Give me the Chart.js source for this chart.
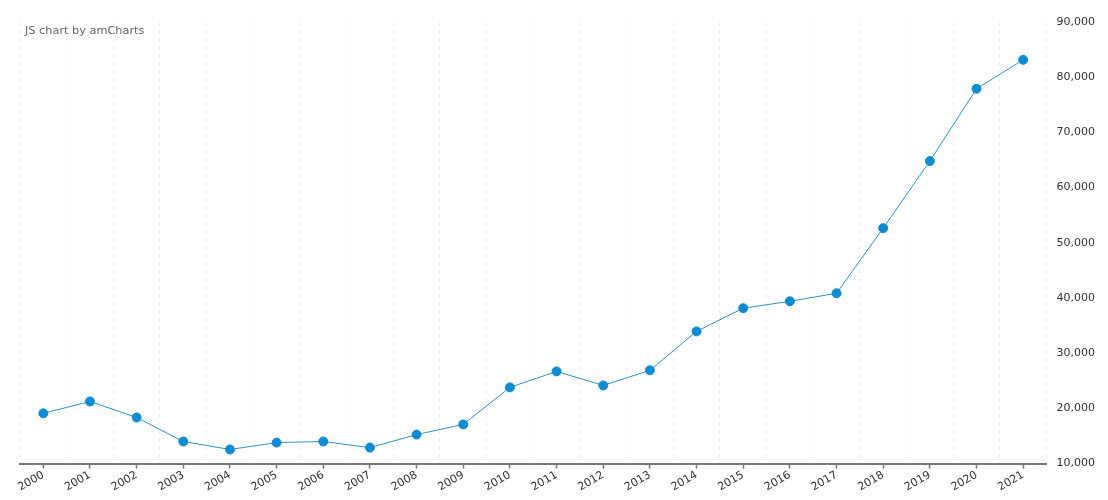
<!DOCTYPE html>
<html>
<head>
<meta charset="utf-8">
<script src="https://cdn.jsdelivr.net/npm/chart.js@4"></script>
<style>
  html, body { margin: 0; padding: 0; background: #fff; }
  #wrap { width: 1108px; height: 500px; }
</style>
</head>
<body>
<div id="wrap"><canvas id="chart"></canvas></div>
<script>
// données
const years = ['2000','2001','2002','2003','2004','2005','2006','2007','2008','2009','2010',
               '2011','2012','2013','2014','2015','2016','2017','2018','2019','2020','2021'];
const values = [19100, 21250, 18350, 14000, 12550, 13800, 14000, 12900, 15250, 17100, 23800,
                26700, 24150, 26900, 33950, 38150, 39400, 40850, 52650, 64800, 77900, 83150];
const yTicks = [10000, 20000, 30000, 40000, 50000, 60000, 70000, 80000, 90000];

const FONT = 'DejaVu Sans, Verdana, sans-serif';

// petit texte en haut à gauche
const creditPlugin = {
    id: 'credit',
    afterDraw(chart) {
        const ctx = chart.ctx;
        ctx.save();
        ctx.font = '11.3px ' + FONT;
        ctx.fillStyle = '#666';
        ctx.textBaseline = 'middle';
        ctx.fillText('JS chart by amCharts', 25, 31);
        ctx.restore();
    }
};

new Chart(document.getElementById('chart'), {
    type: 'line',
    data: {
        labels: years,
        datasets: [{
            data: values,
            borderColor: '#2b93cc',
            borderWidth: 1,
            pointBackgroundColor: '#0e8bd1',
            pointBorderColor: '#0e8bd1',
            pointRadius: 4.5,
            pointHoverRadius: 5,
            tension: 0,
            fill: false
        }]
    },
    options: {
        responsive: true,
        maintainAspectRatio: false,
        animation: false,
        layout: { padding: { left: 20, top: 22, right: 11, bottom: 6 } },
        plugins: { legend: { display: false }, tooltip: { enabled: true } },
        scales: {
            x: {
                type: 'category',
                offset: true,
                grid: {
                    offset: false,
                    drawOnChartArea: false,
                    tickLength: 5,
                    tickColor: '#777',
                    tickWidth: 1.5
                },
                border: { display: true, color: '#777', width: 2 },
                ticks: {
                    minRotation: 30, maxRotation: 30,
                    padding: 0,
                    color: '#333',
                    font: { family: FONT, size: 11 }
                }
            },
            x2: {
                type: 'category',
                labels: years,
                position: 'top',
                offset: true,
                grid: {
                    offset: true,
                    drawTicks: false,
                    color: '#f0f0f0',
                    lineWidth: 1
                },
                border: { display: false, dash: [4, 4] },
                ticks: { display: false }
            },
            y: {
                position: 'right',
                min: 10000,
                max: 90000,
                afterBuildTicks: (axis) => { axis.ticks = yTicks.map(v => ({ value: v })); },
                grid: { display: false },
                border: { display: false },
                ticks: {
                    padding: 2,
                    color: '#333',
                    font: { family: FONT, size: 11 },
                    callback: (v) => v.toLocaleString('en-US')
                }
            }
        }
    },
    plugins: [creditPlugin]
});
</script>
</body>
</html>
